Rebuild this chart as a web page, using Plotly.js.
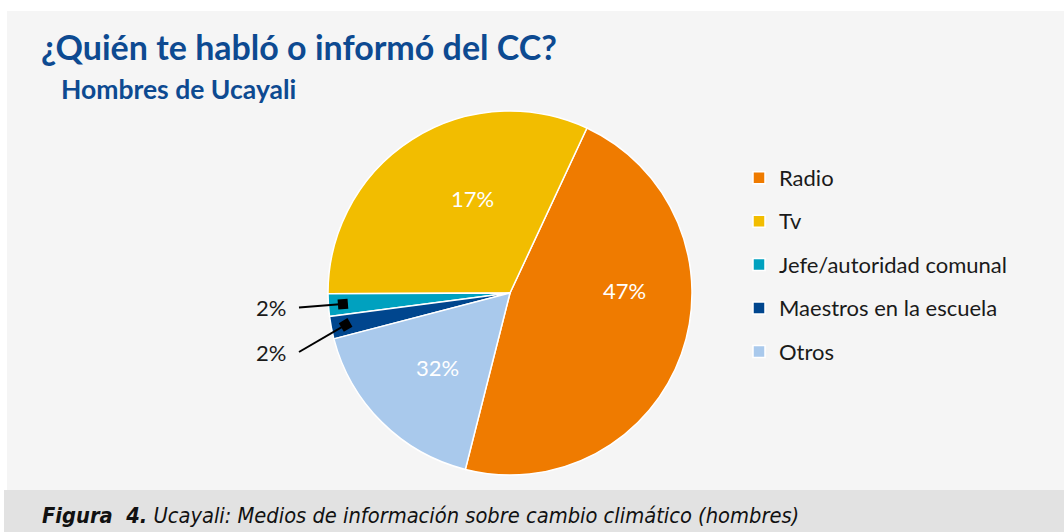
<!DOCTYPE html>
<html>
<head>
<meta charset="utf-8">
<script src="https://cdn.plot.ly/plotly-3.0.1.min.js"></script>
<style>
  html, body { margin: 0; padding: 0; background: #ffffff; }
  #chart { width: 1064px; height: 532px; }
</style>
</head>
<body>
<div id="chart"></div>
<script>
// ---- data ----
const categories = ['Radio', 'Tv', 'Jefe/autoridad comunal', 'Maestros en la escuela', 'Otros'];
const sliceValues = [47, 32, 2, 2, 17];                    // slice sizes (percent of the circle)
const printedLabels = ['47%', '17%', '2%', '2%', '32%'];   // labels as printed in the reference
const sliceColors = ['#EF7B00', '#F2BD00', '#00A1BF', '#00468E', '#A9C9EC'];

const titleText = '¿Quién te habló o informó del CC?';
const subtitleText = 'Hombres de Ucayali';
const captionBold = 'Figura  4.';
const captionText = 'Ucayali: Medios de información sobre cambio climático (hombres)';

// ---- layout / style ----
const W = 1064, H = 532;
const pieCx = 510, pieCy = 293, pieR = 182;
const rotation = 25;
const FONT = 'Lato, "Open Sans", sans-serif';
const BLUE = '#0D4A91';

// label placement per slice: [angle deg clockwise from 12 o'clock, radius fraction] for inside labels,
// or null for small slices that use a leader label on the left
const insideLabelPolar = [[89, 0.63], [-21.8, 0.56], null, null, [224.2, 0.57]];
const leaderLabelPx = [[271, 307.5], [271, 352]];
const leaderStartX = 299, tipFraction = 0.92, squareHalf = 5;

// mid angles (deg, clockwise from 12), following plotly's counterclockwise layout
const total = sliceValues.reduce((a, b) => a + b, 0);
const degs = sliceValues.map(v => v / total * 360);
const midAngles = [];
let cur = rotation + degs[0];
degs.forEach(d => { midAngles.push(cur - d / 2); cur -= d; });

const px2x = p => p / W;
const py2y = p => 1 - p / H;

const annotations = [];
const shapes = [
  { type: 'rect', xref: 'paper', yref: 'paper', layer: 'below',
    x0: px2x(7), x1: 1, y0: py2y(490), y1: py2y(11),
    fillcolor: '#F5F5F5', line: { width: 0 } },
  { type: 'rect', xref: 'paper', yref: 'paper', layer: 'below',
    x0: px2x(4), x1: 1, y0: 0, y1: py2y(490),
    fillcolor: '#E2E2E2', line: { width: 0 } }
];

let k = 0;
sliceValues.forEach((v, i) => {
  const pol = insideLabelPolar[i];
  if (pol) {
    const a = pol[0] * Math.PI / 180;
    annotations.push({
      xref: 'paper', yref: 'paper',
      x: px2x(pieCx + pol[1] * pieR * Math.sin(a)),
      y: py2y(pieCy - pol[1] * pieR * Math.cos(a)),
      xanchor: 'center', yanchor: 'middle', showarrow: false,
      text: printedLabels[i],
      font: { family: FONT, size: 22, color: '#ffffff' }
    });
    return;
  }
  const a = midAngles[i] * Math.PI / 180;
  const tx = pieCx + tipFraction * pieR * Math.sin(a);
  const ty = pieCy - tipFraction * pieR * Math.cos(a);
  const lab = leaderLabelPx[k++];
  annotations.push({
    xref: 'paper', yref: 'paper', x: px2x(lab[0]), y: py2y(lab[1]),
    xanchor: 'center', yanchor: 'middle', showarrow: false,
    text: printedLabels[i],
    font: { family: FONT, size: 22, color: '#1a1a1a' }
  });
  // leader line
  shapes.push({ type: 'line', xref: 'paper', yref: 'paper', layer: 'above',
    x0: px2x(leaderStartX), y0: py2y(lab[1]), x1: px2x(tx), y1: py2y(ty),
    line: { color: '#000000', width: 2 } });
  // square end marker, aligned with the line
  const th = Math.atan2(ty - lab[1], tx - leaderStartX);
  const c = Math.cos(th), s = Math.sin(th);
  const corners = [[-1, -1], [1, -1], [1, 1], [-1, 1]].map(([u, w]) => {
    const qx = tx + squareHalf * (u * c - w * s);
    const qy = ty + squareHalf * (u * s + w * c);
    return px2x(qx).toFixed(5) + ',' + py2y(qy).toFixed(5);
  });
  shapes.push({ type: 'path', xref: 'paper', yref: 'paper', layer: 'above',
    path: 'M' + corners.join('L') + 'Z',
    fillcolor: '#000000', line: { width: 0 } });
});

annotations.push({
  xref: 'paper', yref: 'paper', x: px2x(59), y: py2y(89),
  xanchor: 'left', yanchor: 'middle', showarrow: false,
  text: '<b>' + subtitleText + '</b>',
  font: { family: FONT, size: 26.5, color: BLUE }
});
annotations.push({
  xref: 'paper', yref: 'paper', x: px2x(40), y: py2y(515.5),
  xanchor: 'left', yanchor: 'middle', showarrow: false,
  text: '<i><b>' + captionBold + '</b> ' + captionText + '</i>',
  font: { family: '"Liberation Sans Narrow", "DejaVu Sans Condensed", sans-serif', size: 21.7, color: '#111111' }
});

// legend labels: ~22px text while the rows keep the reference spacing
const legendLabels = categories.map(c => '<span style="font-size:22px;baseline-shift:4.5px">' + c + '</span>');

const trace = {
  type: 'pie',
  labels: legendLabels,
  values: sliceValues,
  textinfo: 'none',
  marker: { colors: sliceColors, line: { color: '#ffffff', width: 1.5 } },
  sort: false,
  direction: 'counterclockwise',
  rotation: rotation,
  hoverinfo: 'none',
  domain: {
    x: [px2x(pieCx - pieR), px2x(pieCx + pieR)],
    y: [py2y(pieCy + pieR), py2y(pieCy - pieR)]
  }
};

const layout = {
  width: W, height: H,
  margin: { l: 0, r: 0, t: 0, b: 0 },
  paper_bgcolor: '#ffffff',
  title: {
    text: '<b>' + titleText + '</b>',
    x: px2x(41), xanchor: 'left', xref: 'paper',
    y: py2y(48), yanchor: 'middle', yref: 'container',
    font: { family: FONT, size: 34, color: BLUE }
  },
  showlegend: true,
  legend: {
    x: px2x(739), xanchor: 'left',
    y: py2y(151), yanchor: 'top',
    bgcolor: 'rgba(0,0,0,0)',
    font: { family: FONT, size: 31.1, color: '#1a1a1a' }
  },
  shapes: shapes,
  annotations: annotations
};

Plotly.newPlot('chart', [trace], layout, { displayModeBar: false, staticPlot: true });
</script>
</body>
</html>
